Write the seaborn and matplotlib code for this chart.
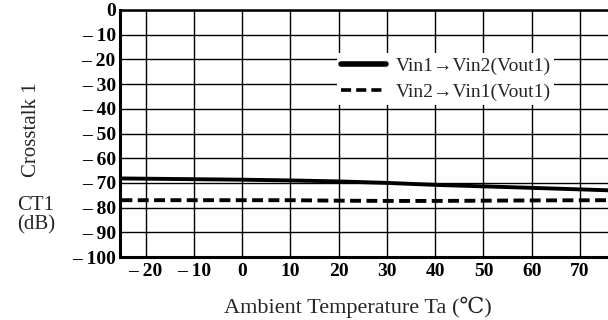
import matplotlib
matplotlib.use("Agg")
import matplotlib.pyplot as plt
from matplotlib.lines import Line2D
import seaborn as sns
import pandas as pd

# Crosstalk vs ambient temperature
temp = [-25, -10, 0, 10, 20, 30, 40, 50, 60, 76]
ct_12 = [-68.2, -68.5, -68.7, -69.0, -69.4, -70.0, -70.8, -71.4, -72.0, -73.0]
ct_21 = [-77.0, -77.0, -77.0, -77.0, -77.2, -77.3, -77.3, -77.2, -77.1, -77.0]

label_12 = "Vin1\u2192Vin2(Vout1)"
label_21 = "Vin2\u2192Vin1(Vout1)"

xticks = [-20, -10, 0, 10, 20, 30, 40, 50, 60, 70]
yticks = [0, -10, -20, -30, -40, -50, -60, -70, -80, -90, -100]

df = pd.DataFrame({
    "Ta": temp + temp,
    "CT1": ct_12 + ct_21,
    "path": [label_12] * len(temp) + [label_21] * len(temp),
})

sns.set_theme(style="white")
plt.rcParams["font.family"] = ["Liberation Serif", "DejaVu Serif"]

fig = plt.figure(figsize=(6.08, 3.2), dpi=100)
ax = fig.add_axes([120 / 608, 1 - 257 / 320, (608 - 120) / 608, (257 - 10) / 320])

sns.lineplot(data=df, x="Ta", y="CT1", hue="path", style="path",
             palette=["black", "black"],
             dashes={label_12: "", label_21: (2.8, 1.4)},
             linewidth=2.8, ax=ax, legend=False)

ax.set_xlim(-25.3, 75.8)
ax.set_ylim(-100, 0)
ax.set_xticks(xticks)
ax.set_yticks(yticks)


def fmt(v):
    # wide typographic dash, spaced from the digits, for negative values
    return f"\u2013 {abs(v)}" if v < 0 else f"{v}"


ax.set_xticklabels([fmt(v) for v in xticks], fontsize=14, fontweight="bold")
ax.set_yticklabels([fmt(v) for v in yticks], fontsize=14, fontweight="bold")
ax.tick_params(axis="y", length=0, pad=3, colors="black")
ax.tick_params(axis="x", length=0, pad=4, colors="black")
ax.grid(True, color="black", linewidth=1.0)
for side in ["left", "bottom", "top"]:
    ax.spines[side].set_color("black")
ax.spines["left"].set_linewidth(2.2)
ax.spines["bottom"].set_linewidth(2.2)
ax.spines["top"].set_linewidth(1.8)
ax.spines["right"].set_visible(False)
ax.set_xlabel("")
ax.set_ylabel("")

# Legend drawn over a white patch so the grid is hidden behind it
handles = [Line2D([], [], color="black", linewidth=4.0),
           Line2D([], [], color="black", linewidth=2.6, dashes=(2.8, 1.4))]
leg = ax.legend(handles, [label_12, label_21], loc="upper left",
                bbox_to_anchor=(0.425, 0.865), frameon=True, fancybox=False,
                edgecolor="white", facecolor="white", framealpha=1.0,
                fontsize=14, handlelength=2.3, handletextpad=0.5,
                borderpad=0.2, labelspacing=0.45)
leg.get_frame().set_linewidth(0)

fig.text(31 / 608, 1 - 130 / 320, "Crosstalk 1", rotation=90,
         ha="center", va="center", fontsize=15)
fig.text(36 / 608, 1 - 205 / 320, "CT1", ha="center", va="center", fontsize=15)
fig.text(36 / 608, 1 - 225 / 320, "(dB)", ha="center", va="center", fontsize=15)
fig.text(358 / 608, 1 - 313 / 320, "Ambient Temperature Ta (\u2103)",
         ha="center", va="baseline", fontsize=16)

fig.savefig("out.png", dpi=100, facecolor="white")
